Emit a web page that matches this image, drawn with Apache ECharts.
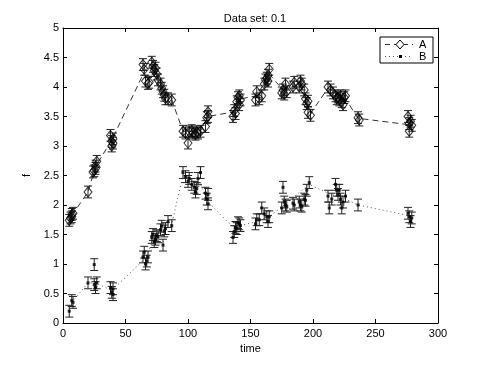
<!DOCTYPE html>
<html>
<head>
<meta charset="utf-8">
<script src="https://cdn.jsdelivr.net/npm/echarts@6/dist/echarts.min.js"></script>
<style>
  html, body { margin: 0; padding: 0; background: #fff; }
  #chart { width: 485px; height: 365px; }
</style>
</head>
<body>
<div id="chart"></div>
<script>
var timeA = [5, 6, 7, 8, 7, 20, 24, 25, 26, 27, 26, 38, 39, 39, 40, 40,
    64, 65, 66, 68, 69, 71, 72, 73, 74, 75, 76, 78, 79, 80, 81, 82, 84, 87,
    96, 98, 100, 101, 103, 104, 106, 107, 108, 110, 114, 115, 116, 116,
    136, 137, 138, 139, 140, 141, 142, 141, 154, 155, 157, 159, 161, 162, 163, 164, 165, 164,
    175, 176, 177, 178, 179, 184, 185, 189, 190, 191, 193, 194, 195, 196, 196, 198,
    212, 214, 216, 218, 219, 220, 221, 222, 223, 224, 225, 226, 236, 237,
    276, 277, 277, 278, 279];
var valA = [1.74, 1.78, 1.84, 1.86, 1.80, 2.22, 2.56, 2.58, 2.62, 2.74, 2.66, 3.18, 3.08, 3.00, 3.05, 3.12,
    4.38, 4.30, 4.10, 4.06, 4.08, 4.42, 4.35, 4.28, 4.32, 4.22, 4.12, 4.05, 3.98, 3.92, 3.86, 3.80, 3.80, 3.78,
    3.25, 3.22, 3.05, 3.24, 3.26, 3.22, 3.20, 3.24, 3.22, 3.25, 3.33, 3.48, 3.58, 3.50,
    3.50, 3.60, 3.55, 3.75, 3.82, 3.85, 3.78, 3.70, 3.78, 3.92, 3.80, 3.85, 4.05, 4.12, 4.15, 4.20, 4.30, 4.10,
    3.90, 3.95, 3.88, 4.05, 3.92, 4.00, 4.08, 4.00, 4.10, 4.05, 3.95, 3.80, 3.72, 3.76, 3.57, 3.52,
    4.00, 3.95, 3.90, 3.85, 3.80, 3.83, 3.78, 3.85, 3.75, 3.70, 3.82, 3.85, 3.48, 3.44,
    3.50, 3.38, 3.25, 3.42, 3.35];

var timeB = [5, 7, 8, 20, 25, 25, 26, 27, 38, 39, 40, 40,
    64, 65, 66, 67, 68, 71, 72, 73, 74, 75, 76, 78, 79, 80, 81, 82, 84, 87,
    96, 98, 100, 101, 103, 105, 106, 107, 108, 110, 114, 115, 116, 116,
    136, 137, 138, 139, 140, 141, 142, 154, 155, 157, 159, 161, 163, 164, 165,
    175, 176, 177, 178, 179, 184, 185, 189, 190, 191, 193, 194, 195, 197,
    212, 213, 215, 218, 219, 220, 221, 222, 223, 224, 226, 236,
    276, 277, 278, 279];
var valB = [0.20, 0.38, 0.35, 0.68, 0.99, 0.65, 0.60, 0.68, 0.60, 0.52, 0.58, 0.48,
    1.12, 1.20, 1.00, 1.05, 1.12, 1.45, 1.50, 1.38, 1.42, 1.48, 1.46, 1.58, 1.64, 1.32, 1.56, 1.60, 1.72, 1.65,
    2.55, 2.48, 2.40, 2.45, 2.35, 2.30, 2.22, 2.28, 2.45, 2.55, 2.20, 2.10, 2.02, 2.18,
    1.45, 1.55, 1.62, 1.60, 1.70, 1.68, 1.65, 1.68, 1.75, 1.75, 1.95, 1.85, 1.80, 1.72, 1.80,
    1.95, 2.30, 2.05, 2.00, 1.98, 2.03, 2.00, 2.05, 2.00, 1.98, 2.10, 2.08, 2.25, 2.38,
    2.15, 1.95, 2.10, 2.35, 2.25, 2.18, 2.25, 2.10, 1.95, 2.05, 2.15, 2.00,
    1.86, 1.80, 1.72, 1.78];

// trend lines drawn between the groups
var lineTimeA = [7, 20, 26, 39, 66, 73, 80, 87, 96, 110, 116, 137, 142, 155, 165, 176, 190, 198, 212, 226, 236, 277];
var lineValA = [1.82, 2.22, 2.65, 3.10, 4.30, 4.32, 3.95, 3.78, 3.25, 3.25, 3.50, 3.58, 3.80, 3.85, 4.22, 3.95, 4.05, 3.55, 3.98, 3.80, 3.47, 3.36];
var lineTimeB = [7, 20, 26, 39, 66, 73, 82, 87, 96, 110, 116, 138, 142, 155, 165, 177, 197, 212, 226, 236, 277];
var lineValB = [0.35, 0.68, 0.68, 0.55, 1.10, 1.45, 1.60, 1.68, 2.50, 2.35, 2.05, 1.58, 1.65, 1.72, 1.80, 2.00, 2.35, 2.20, 2.10, 2.00, 1.82];

var errA = 0.1;
var errB = 0.1;

function zip(xs, ys, e) {
    return xs.map(function (x, i) { return e == null ? [x, ys[i]] : [x, ys[i], e]; });
}

function errorBar(params, api) {
    var x = api.value(0), y = api.value(1), e = api.value(2);
    var hi = api.coord([x, y + e]);
    var lo = api.coord([x, y - e]);
    var hw = 4;
    var st = { stroke: '#222', lineWidth: 1 };
    return {
        type: 'group',
        children: [
            { type: 'line', shape: { x1: hi[0], y1: hi[1], x2: lo[0], y2: lo[1] }, style: st },
            { type: 'line', shape: { x1: hi[0] - hw, y1: hi[1], x2: hi[0] + hw, y2: hi[1] }, style: st },
            { type: 'line', shape: { x1: lo[0] - hw, y1: lo[1], x2: lo[0] + hw, y2: lo[1] }, style: st }
        ]
    };
}

var font = 'Liberation Sans, Arial, sans-serif';
var chart = echarts.init(document.getElementById('chart'), null, { renderer: 'canvas' });

var axisCommon = {
    axisLine: { show: true, onZero: false, lineStyle: { color: '#000', width: 1 } },
    axisTick: { show: true, inside: true, length: 4, lineStyle: { color: '#000' } },
    splitLine: { show: false }
};

var option = {
    backgroundColor: '#fff',
    animation: false,
    title: {
        text: 'Data set: 0.1',
        left: 250, top: 8, textAlign: 'center',
        textStyle: { fontFamily: font, fontSize: 11, fontWeight: 'normal', color: '#000' }
    },
    grid: { left: 63, right: 47, top: 28, bottom: 42 },
    xAxis: [
        Object.assign({
            type: 'value', min: 0, max: 300, interval: 50, position: 'bottom',
            name: 'time', nameLocation: 'middle', nameGap: 20,
            nameTextStyle: { fontFamily: font, fontSize: 11, color: '#000' },
            axisLabel: { fontFamily: font, fontSize: 11, color: '#000', margin: 5 }
        }, axisCommon),
        Object.assign({
            type: 'value', min: 0, max: 300, interval: 50, position: 'top',
            axisLabel: { show: false }
        }, axisCommon)
    ],
    yAxis: [
        Object.assign({
            type: 'value', min: 0, max: 5, interval: 0.5, position: 'left',
            name: 'f', nameLocation: 'middle', nameGap: 30,
            nameTextStyle: { fontFamily: font, fontSize: 11, color: '#000' },
            axisLabel: { fontFamily: font, fontSize: 11, color: '#000', margin: 4 }
        }, axisCommon),
        Object.assign({
            type: 'value', min: 0, max: 5, interval: 0.5, position: 'right',
            axisLabel: { show: false }
        }, axisCommon)
    ],
    graphic: [
        { type: 'rect', shape: { x: 380, y: 37, width: 53, height: 26 },
          style: { fill: '#fff', stroke: '#000', lineWidth: 1 }, z: 100 },
        { type: 'line', shape: { x1: 385, y1: 44.5, x2: 413, y2: 44.5 },
          style: { stroke: '#333', lineWidth: 1, lineDash: [5, 4] }, z: 101 },
        { type: 'polygon', shape: { points: [[400, 40], [404, 44.5], [400, 49], [396, 44.5]] },
          style: { fill: '#fff', stroke: '#000', lineWidth: 1 }, z: 102 },
        { type: 'text', x: 419, y: 44.5, style: { text: 'A', fontFamily: font, fontSize: 11, fill: '#000', textVerticalAlign: 'middle' }, z: 101 },
        { type: 'line', shape: { x1: 385, y1: 56.5, x2: 413, y2: 56.5 },
          style: { stroke: '#555', lineWidth: 1, lineDash: [1, 3] }, z: 101 },
        { type: 'rect', shape: { x: 399, y: 55, width: 3, height: 3 }, style: { fill: '#000' }, z: 102 },
        { type: 'text', x: 419, y: 56.5, style: { text: 'B', fontFamily: font, fontSize: 11, fill: '#000', textVerticalAlign: 'middle' }, z: 101 }
    ],
    series: [
        {
            name: 'A line', type: 'line', data: zip(lineTimeA, lineValA), showSymbol: false,
            lineStyle: { color: '#333', width: 1, type: [6, 4] }, z: 2
        },
        {
            name: 'B line', type: 'line', data: zip(lineTimeB, lineValB), showSymbol: false,
            lineStyle: { color: '#555', width: 1, type: [1, 3] }, z: 2
        },
        {
            name: 'A err', type: 'custom', renderItem: errorBar, data: zip(timeA, valA, errA), z: 3
        },
        {
            name: 'B err', type: 'custom', renderItem: errorBar, data: zip(timeB, valB, errB), z: 3
        },
        {
            name: 'A', type: 'scatter', data: zip(timeA, valA), symbol: 'diamond', symbolSize: [8, 10],
            itemStyle: { color: 'rgba(0,0,0,0)', borderColor: '#000', borderWidth: 1 }, z: 4
        },
        {
            name: 'B', type: 'scatter', data: zip(timeB, valB), symbol: 'rect', symbolSize: 3,
            itemStyle: { color: '#000' }, z: 4
        }
    ]
};
chart.setOption(option);
</script>
</body>
</html>
